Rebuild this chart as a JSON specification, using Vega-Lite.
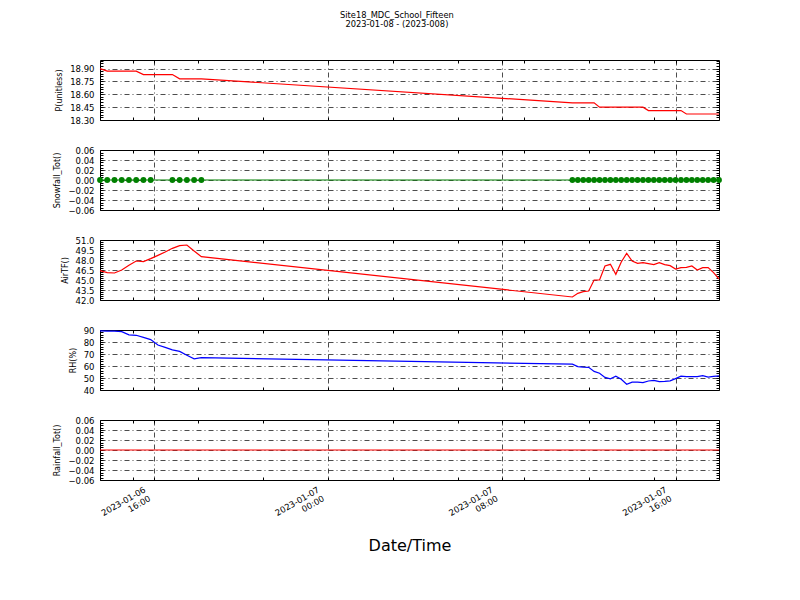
{
  "$schema": "https://vega.github.io/schema/vega-lite/v6.json",
  "padding": {"left": 53, "top": 10, "right": 5, "bottom": 5},
  "title": {"text": "Site18_MDC_School_Fifteen", "subtitle": "2023-01-08 - (2023-008)", "font": "DejaVu Sans", "subtitleFont": "DejaVu Sans", "fontSize": 8.3, "subtitleFontSize": 8.3, "fontWeight": "normal", "color": "black", "subtitleColor": "black", "subtitlePadding": 1, "anchor": "middle", "offset": 28, "dx": 9},
  "datasets": {
    "w": [
      {"t": "2023-01-06T13:30", "P": 18.90, "T": 46.40, "RH": 89.2, "S": 0, "R": 0},
      {"t": "2023-01-06T13:50", "P": 18.87, "T": 46.10, "RH": 89.0, "S": 0, "R": 0},
      {"t": "2023-01-06T14:10", "P": 18.87, "T": 46.05, "RH": 89.0, "S": 0, "R": 0},
      {"t": "2023-01-06T14:30", "P": 18.87, "T": 46.50, "RH": 88.6, "S": 0, "R": 0},
      {"t": "2023-01-06T14:50", "P": 18.87, "T": 47.20, "RH": 86.0, "S": 0, "R": 0},
      {"t": "2023-01-06T15:10", "P": 18.87, "T": 47.85, "RH": 85.6, "S": 0, "R": 0},
      {"t": "2023-01-06T15:30", "P": 18.83, "T": 47.75, "RH": 83.8, "S": 0, "R": 0},
      {"t": "2023-01-06T15:50", "P": 18.83, "T": 48.20, "RH": 82.0, "S": 0, "R": 0},
      {"t": "2023-01-06T16:10", "P": 18.83, "T": 48.70, "RH": 77.5, "S": null, "R": 0},
      {"t": "2023-01-06T16:30", "P": 18.83, "T": 49.20, "RH": 75.5, "S": null, "R": 0},
      {"t": "2023-01-06T16:50", "P": 18.83, "T": 49.75, "RH": 73.5, "S": 0, "R": 0},
      {"t": "2023-01-06T17:10", "P": 18.78, "T": 50.15, "RH": 72.2, "S": 0, "R": 0},
      {"t": "2023-01-06T17:30", "P": 18.78, "T": 50.25, "RH": 69.0, "S": 0, "R": 0},
      {"t": "2023-01-06T17:50", "P": 18.78, "T": 49.35, "RH": 66.0, "S": 0, "R": 0},
      {"t": "2023-01-06T18:10", "P": 18.78, "T": 48.50, "RH": 67.0, "S": 0, "R": 0},
      {"t": "2023-01-07T11:15", "P": 18.50, "T": 42.45, "RH": 61.5, "S": 0, "R": 0},
      {"t": "2023-01-07T11:30", "P": 18.50, "T": 43.00, "RH": 59.5, "S": 0, "R": 0},
      {"t": "2023-01-07T11:45", "P": 18.50, "T": 43.25, "RH": 59.0, "S": 0, "R": 0},
      {"t": "2023-01-07T12:00", "P": 18.50, "T": 43.35, "RH": 58.9, "S": 0, "R": 0},
      {"t": "2023-01-07T12:15", "P": 18.50, "T": 45.00, "RH": 55.5, "S": 0, "R": 0},
      {"t": "2023-01-07T12:30", "P": 18.45, "T": 45.00, "RH": 54.0, "S": 0, "R": 0},
      {"t": "2023-01-07T12:45", "P": 18.45, "T": 47.10, "RH": 50.5, "S": 0, "R": 0},
      {"t": "2023-01-07T13:00", "P": 18.45, "T": 47.35, "RH": 49.3, "S": 0, "R": 0},
      {"t": "2023-01-07T13:15", "P": 18.45, "T": 45.85, "RH": 51.5, "S": 0, "R": 0},
      {"t": "2023-01-07T13:30", "P": 18.45, "T": 47.70, "RH": 49.0, "S": 0, "R": 0},
      {"t": "2023-01-07T13:45", "P": 18.45, "T": 49.00, "RH": 44.8, "S": 0, "R": 0},
      {"t": "2023-01-07T14:00", "P": 18.45, "T": 47.85, "RH": 46.6, "S": 0, "R": 0},
      {"t": "2023-01-07T14:15", "P": 18.45, "T": 47.50, "RH": 46.5, "S": 0, "R": 0},
      {"t": "2023-01-07T14:30", "P": 18.45, "T": 47.60, "RH": 46.1, "S": 0, "R": 0},
      {"t": "2023-01-07T14:45", "P": 18.41, "T": 47.45, "RH": 47.5, "S": 0, "R": 0},
      {"t": "2023-01-07T15:00", "P": 18.41, "T": 47.30, "RH": 48.0, "S": 0, "R": 0},
      {"t": "2023-01-07T15:15", "P": 18.41, "T": 47.60, "RH": 47.0, "S": 0, "R": 0},
      {"t": "2023-01-07T15:30", "P": 18.41, "T": 47.30, "RH": 47.2, "S": 0, "R": 0},
      {"t": "2023-01-07T15:45", "P": 18.41, "T": 47.15, "RH": 47.6, "S": 0, "R": 0},
      {"t": "2023-01-07T16:00", "P": 18.41, "T": 46.65, "RH": 49.5, "S": 0, "R": 0},
      {"t": "2023-01-07T16:15", "P": 18.41, "T": 46.85, "RH": 51.5, "S": 0, "R": 0},
      {"t": "2023-01-07T16:30", "P": 18.37, "T": 46.90, "RH": 51.2, "S": 0, "R": 0},
      {"t": "2023-01-07T16:45", "P": 18.37, "T": 47.10, "RH": 51.1, "S": 0, "R": 0},
      {"t": "2023-01-07T17:00", "P": 18.37, "T": 46.50, "RH": 51.2, "S": 0, "R": 0},
      {"t": "2023-01-07T17:15", "P": 18.37, "T": 46.85, "RH": 52.0, "S": 0, "R": 0},
      {"t": "2023-01-07T17:30", "P": 18.37, "T": 46.85, "RH": 50.8, "S": 0, "R": 0},
      {"t": "2023-01-07T17:45", "P": 18.37, "T": 46.10, "RH": 51.3, "S": 0, "R": 0},
      {"t": "2023-01-07T18:00", "P": 18.37, "T": 45.15, "RH": 51.7, "S": 0, "R": 0}
    ]
  },
  "spacing": 30,
  "bounds": "flush",
  "vconcat": [
    {
      "width": 619, "height": 60,
      "data": {"name": "w"},
      "layer": [
        {"mark": {"type": "line", "color": "#ff0000", "strokeWidth": 1.2},
         "encoding": {
           "x": {"field": "t", "type": "temporal", "scale": {"domain": [{"year": 2023, "month": 1, "date": 6, "hours": 13, "minutes": 30}, {"year": 2023, "month": 1, "date": 7, "hours": 18}], "nice": false},
                 "axis": {"values": [{"year": 2023, "month": 1, "date": 6, "hours": 15}, {"year": 2023, "month": 1, "date": 6, "hours": 16}, {"year": 2023, "month": 1, "date": 6, "hours": 18}, {"year": 2023, "month": 1, "date": 6, "hours": 21}, {"year": 2023, "month": 1, "date": 7, "hours": 0}, {"year": 2023, "month": 1, "date": 7, "hours": 3}, {"year": 2023, "month": 1, "date": 7, "hours": 6}, {"year": 2023, "month": 1, "date": 7, "hours": 8}, {"year": 2023, "month": 1, "date": 7, "hours": 9}, {"year": 2023, "month": 1, "date": 7, "hours": 12}, {"year": 2023, "month": 1, "date": 7, "hours": 15}, {"year": 2023, "month": 1, "date": 7, "hours": 16}],
                          "labels": false, "title": null,
                          "gridOpacity": {"condition": {"test": "hours(datum.value) % 8 === 0", "value": 1}, "value": 0}}},
           "y": {"field": "P", "type": "quantitative", "scale": {"domain": [18.3, 19.0], "nice": false, "zero": false},
                 "axis": {"title": "P(unitless)", "values": [18.3, 18.33, 18.36, 18.39, 18.42, 18.45, 18.48, 18.51, 18.54, 18.57, 18.6, 18.63, 18.66, 18.69, 18.72, 18.75, 18.78, 18.81, 18.84, 18.87, 18.9, 18.93, 18.96, 18.99],
                          "labelExpr": "indexof([18.3, 18.45, 18.6, 18.75, 18.9], datum.value) >= 0 ? format(datum.value, '.2f') : ''",
                          "gridOpacity": {"condition": {"test": "indexof([18.3, 18.45, 18.6, 18.75, 18.9], datum.value) >= 0", "value": 1}, "value": 0}}}
         }},
        {"mark": {"type": "line", "opacity": 0},
         "encoding": {
           "x": {"field": "t", "type": "temporal", "axis": {"orient": "top", "values": [{"year": 2023, "month": 1, "date": 6, "hours": 15}, {"year": 2023, "month": 1, "date": 6, "hours": 16}, {"year": 2023, "month": 1, "date": 6, "hours": 18}, {"year": 2023, "month": 1, "date": 6, "hours": 21}, {"year": 2023, "month": 1, "date": 7, "hours": 0}, {"year": 2023, "month": 1, "date": 7, "hours": 3}, {"year": 2023, "month": 1, "date": 7, "hours": 6}, {"year": 2023, "month": 1, "date": 7, "hours": 8}, {"year": 2023, "month": 1, "date": 7, "hours": 9}, {"year": 2023, "month": 1, "date": 7, "hours": 12}, {"year": 2023, "month": 1, "date": 7, "hours": 15}, {"year": 2023, "month": 1, "date": 7, "hours": 16}], "labels": false, "grid": false, "title": null}},
           "y": {"field": "P", "type": "quantitative", "axis": {"orient": "right", "values": [18.3, 18.33, 18.36, 18.39, 18.42, 18.45, 18.48, 18.51, 18.54, 18.57, 18.6, 18.63, 18.66, 18.69, 18.72, 18.75, 18.78, 18.81, 18.84, 18.87, 18.9, 18.93, 18.96, 18.99], "labels": false, "grid": false, "title": null}}
         }}
      ],
      "resolve": {"axis": {"x": "independent", "y": "independent"}}
    },
    {
      "width": 619, "height": 60,
      "data": {"name": "w"},
      "transform": [{"filter": "isValid(datum.S)"}],
      "layer": [
        {"mark": {"type": "line", "color": "#008000", "strokeWidth": 1.2},
         "encoding": {
           "x": {"field": "t", "type": "temporal", "scale": {"domain": [{"year": 2023, "month": 1, "date": 6, "hours": 13, "minutes": 30}, {"year": 2023, "month": 1, "date": 7, "hours": 18}], "nice": false},
                 "axis": {"values": [{"year": 2023, "month": 1, "date": 6, "hours": 15}, {"year": 2023, "month": 1, "date": 6, "hours": 16}, {"year": 2023, "month": 1, "date": 6, "hours": 18}, {"year": 2023, "month": 1, "date": 6, "hours": 21}, {"year": 2023, "month": 1, "date": 7, "hours": 0}, {"year": 2023, "month": 1, "date": 7, "hours": 3}, {"year": 2023, "month": 1, "date": 7, "hours": 6}, {"year": 2023, "month": 1, "date": 7, "hours": 8}, {"year": 2023, "month": 1, "date": 7, "hours": 9}, {"year": 2023, "month": 1, "date": 7, "hours": 12}, {"year": 2023, "month": 1, "date": 7, "hours": 15}, {"year": 2023, "month": 1, "date": 7, "hours": 16}],
                          "labels": false, "title": null,
                          "gridOpacity": {"condition": {"test": "hours(datum.value) % 8 === 0", "value": 1}, "value": 0}}},
           "y": {"field": "S", "type": "quantitative", "scale": {"domain": [-0.06, 0.06], "nice": false, "zero": false},
                 "axis": {"title": "Snowfall_Tot()", "values": [-0.06, -0.055, -0.05, -0.045, -0.04, -0.035, -0.03, -0.025, -0.02, -0.015, -0.01, -0.005, 0, 0.005, 0.01, 0.015, 0.02, 0.025, 0.03, 0.035, 0.04, 0.045, 0.05, 0.055, 0.06],
                          "labelExpr": "indexof([-0.06, -0.04, -0.02, 0, 0.02, 0.04, 0.06], datum.value) >= 0 ? format(datum.value, '.2f') : ''",
                          "gridOpacity": {"condition": {"test": "indexof([-0.06, -0.04, -0.02, 0, 0.02, 0.04, 0.06], datum.value) >= 0", "value": 1}, "value": 0}}}
         }},
        {"mark": {"type": "point", "filled": true, "color": "#008000", "opacity": 1, "size": 34},
         "encoding": {
           "x": {"field": "t", "type": "temporal", "axis": null},
           "y": {"field": "S", "type": "quantitative", "axis": null}
         }},
        {"mark": {"type": "line", "opacity": 0},
         "encoding": {
           "x": {"field": "t", "type": "temporal", "axis": {"orient": "top", "values": [{"year": 2023, "month": 1, "date": 6, "hours": 15}, {"year": 2023, "month": 1, "date": 6, "hours": 16}, {"year": 2023, "month": 1, "date": 6, "hours": 18}, {"year": 2023, "month": 1, "date": 6, "hours": 21}, {"year": 2023, "month": 1, "date": 7, "hours": 0}, {"year": 2023, "month": 1, "date": 7, "hours": 3}, {"year": 2023, "month": 1, "date": 7, "hours": 6}, {"year": 2023, "month": 1, "date": 7, "hours": 8}, {"year": 2023, "month": 1, "date": 7, "hours": 9}, {"year": 2023, "month": 1, "date": 7, "hours": 12}, {"year": 2023, "month": 1, "date": 7, "hours": 15}, {"year": 2023, "month": 1, "date": 7, "hours": 16}], "labels": false, "grid": false, "title": null}},
           "y": {"field": "S", "type": "quantitative", "axis": {"orient": "right", "values": [-0.06, -0.055, -0.05, -0.045, -0.04, -0.035, -0.03, -0.025, -0.02, -0.015, -0.01, -0.005, 0, 0.005, 0.01, 0.015, 0.02, 0.025, 0.03, 0.035, 0.04, 0.045, 0.05, 0.055, 0.06], "labels": false, "grid": false, "title": null}}
         }}
      ],
      "resolve": {"axis": {"x": "independent", "y": "independent"}}
    },
    {
      "width": 619, "height": 60,
      "data": {"name": "w"},
      "layer": [
        {"mark": {"type": "line", "color": "#ff0000", "strokeWidth": 1.2},
         "encoding": {
           "x": {"field": "t", "type": "temporal", "scale": {"domain": [{"year": 2023, "month": 1, "date": 6, "hours": 13, "minutes": 30}, {"year": 2023, "month": 1, "date": 7, "hours": 18}], "nice": false},
                 "axis": {"values": [{"year": 2023, "month": 1, "date": 6, "hours": 15}, {"year": 2023, "month": 1, "date": 6, "hours": 16}, {"year": 2023, "month": 1, "date": 6, "hours": 18}, {"year": 2023, "month": 1, "date": 6, "hours": 21}, {"year": 2023, "month": 1, "date": 7, "hours": 0}, {"year": 2023, "month": 1, "date": 7, "hours": 3}, {"year": 2023, "month": 1, "date": 7, "hours": 6}, {"year": 2023, "month": 1, "date": 7, "hours": 8}, {"year": 2023, "month": 1, "date": 7, "hours": 9}, {"year": 2023, "month": 1, "date": 7, "hours": 12}, {"year": 2023, "month": 1, "date": 7, "hours": 15}, {"year": 2023, "month": 1, "date": 7, "hours": 16}],
                          "labels": false, "title": null,
                          "gridOpacity": {"condition": {"test": "hours(datum.value) % 8 === 0", "value": 1}, "value": 0}}},
           "y": {"field": "T", "type": "quantitative", "scale": {"domain": [42, 51], "nice": false, "zero": false},
                 "axis": {"title": "AirTF()", "values": [42, 42.3, 42.6, 42.9, 43.2, 43.5, 43.8, 44.1, 44.4, 44.7, 45, 45.3, 45.6, 45.9, 46.2, 46.5, 46.8, 47.1, 47.4, 47.7, 48, 48.3, 48.6, 48.9, 49.2, 49.5, 49.8, 50.1, 50.4, 50.7, 51],
                          "labelExpr": "indexof([42, 43.5, 45, 46.5, 48, 49.5, 51], datum.value) >= 0 ? format(datum.value, '.1f') : ''",
                          "gridOpacity": {"condition": {"test": "indexof([42, 43.5, 45, 46.5, 48, 49.5, 51], datum.value) >= 0", "value": 1}, "value": 0}}}
         }},
        {"mark": {"type": "line", "opacity": 0},
         "encoding": {
           "x": {"field": "t", "type": "temporal", "axis": {"orient": "top", "values": [{"year": 2023, "month": 1, "date": 6, "hours": 15}, {"year": 2023, "month": 1, "date": 6, "hours": 16}, {"year": 2023, "month": 1, "date": 6, "hours": 18}, {"year": 2023, "month": 1, "date": 6, "hours": 21}, {"year": 2023, "month": 1, "date": 7, "hours": 0}, {"year": 2023, "month": 1, "date": 7, "hours": 3}, {"year": 2023, "month": 1, "date": 7, "hours": 6}, {"year": 2023, "month": 1, "date": 7, "hours": 8}, {"year": 2023, "month": 1, "date": 7, "hours": 9}, {"year": 2023, "month": 1, "date": 7, "hours": 12}, {"year": 2023, "month": 1, "date": 7, "hours": 15}, {"year": 2023, "month": 1, "date": 7, "hours": 16}], "labels": false, "grid": false, "title": null}},
           "y": {"field": "T", "type": "quantitative", "axis": {"orient": "right", "values": [42, 42.3, 42.6, 42.9, 43.2, 43.5, 43.8, 44.1, 44.4, 44.7, 45, 45.3, 45.6, 45.9, 46.2, 46.5, 46.8, 47.1, 47.4, 47.7, 48, 48.3, 48.6, 48.9, 49.2, 49.5, 49.8, 50.1, 50.4, 50.7, 51], "labels": false, "grid": false, "title": null}}
         }}
      ],
      "resolve": {"axis": {"x": "independent", "y": "independent"}}
    },
    {
      "width": 619, "height": 60,
      "data": {"name": "w"},
      "layer": [
        {"mark": {"type": "line", "color": "#0000ff", "strokeWidth": 1.2},
         "encoding": {
           "x": {"field": "t", "type": "temporal", "scale": {"domain": [{"year": 2023, "month": 1, "date": 6, "hours": 13, "minutes": 30}, {"year": 2023, "month": 1, "date": 7, "hours": 18}], "nice": false},
                 "axis": {"values": [{"year": 2023, "month": 1, "date": 6, "hours": 15}, {"year": 2023, "month": 1, "date": 6, "hours": 16}, {"year": 2023, "month": 1, "date": 6, "hours": 18}, {"year": 2023, "month": 1, "date": 6, "hours": 21}, {"year": 2023, "month": 1, "date": 7, "hours": 0}, {"year": 2023, "month": 1, "date": 7, "hours": 3}, {"year": 2023, "month": 1, "date": 7, "hours": 6}, {"year": 2023, "month": 1, "date": 7, "hours": 8}, {"year": 2023, "month": 1, "date": 7, "hours": 9}, {"year": 2023, "month": 1, "date": 7, "hours": 12}, {"year": 2023, "month": 1, "date": 7, "hours": 15}, {"year": 2023, "month": 1, "date": 7, "hours": 16}],
                          "labels": false, "title": null,
                          "gridOpacity": {"condition": {"test": "hours(datum.value) % 8 === 0", "value": 1}, "value": 0}}},
           "y": {"field": "RH", "type": "quantitative", "scale": {"domain": [40, 90], "nice": false, "zero": false},
                 "axis": {"title": "RH(%)", "values": [40, 42, 44, 46, 48, 50, 52, 54, 56, 58, 60, 62, 64, 66, 68, 70, 72, 74, 76, 78, 80, 82, 84, 86, 88, 90],
                          "labelExpr": "datum.value % 10 === 0 ? format(datum.value, 'd') : ''",
                          "gridOpacity": {"condition": {"test": "datum.value % 10 === 0", "value": 1}, "value": 0}}}
         }},
        {"mark": {"type": "line", "opacity": 0},
         "encoding": {
           "x": {"field": "t", "type": "temporal", "axis": {"orient": "top", "values": [{"year": 2023, "month": 1, "date": 6, "hours": 15}, {"year": 2023, "month": 1, "date": 6, "hours": 16}, {"year": 2023, "month": 1, "date": 6, "hours": 18}, {"year": 2023, "month": 1, "date": 6, "hours": 21}, {"year": 2023, "month": 1, "date": 7, "hours": 0}, {"year": 2023, "month": 1, "date": 7, "hours": 3}, {"year": 2023, "month": 1, "date": 7, "hours": 6}, {"year": 2023, "month": 1, "date": 7, "hours": 8}, {"year": 2023, "month": 1, "date": 7, "hours": 9}, {"year": 2023, "month": 1, "date": 7, "hours": 12}, {"year": 2023, "month": 1, "date": 7, "hours": 15}, {"year": 2023, "month": 1, "date": 7, "hours": 16}], "labels": false, "grid": false, "title": null}},
           "y": {"field": "RH", "type": "quantitative", "axis": {"orient": "right", "values": [40, 42, 44, 46, 48, 50, 52, 54, 56, 58, 60, 62, 64, 66, 68, 70, 72, 74, 76, 78, 80, 82, 84, 86, 88, 90], "labels": false, "grid": false, "title": null}}
         }}
      ],
      "resolve": {"axis": {"x": "independent", "y": "independent"}}
    },
    {
      "width": 619, "height": 60,
      "data": {"name": "w"},
      "layer": [
        {"mark": {"type": "line", "color": "#ff0000", "strokeWidth": 1.2},
         "encoding": {
           "x": {"field": "t", "type": "temporal", "scale": {"domain": [{"year": 2023, "month": 1, "date": 6, "hours": 13, "minutes": 30}, {"year": 2023, "month": 1, "date": 7, "hours": 18}], "nice": false},
                 "axis": {"values": [{"year": 2023, "month": 1, "date": 6, "hours": 15}, {"year": 2023, "month": 1, "date": 6, "hours": 16}, {"year": 2023, "month": 1, "date": 6, "hours": 18}, {"year": 2023, "month": 1, "date": 6, "hours": 21}, {"year": 2023, "month": 1, "date": 7, "hours": 0}, {"year": 2023, "month": 1, "date": 7, "hours": 3}, {"year": 2023, "month": 1, "date": 7, "hours": 6}, {"year": 2023, "month": 1, "date": 7, "hours": 8}, {"year": 2023, "month": 1, "date": 7, "hours": 9}, {"year": 2023, "month": 1, "date": 7, "hours": 12}, {"year": 2023, "month": 1, "date": 7, "hours": 15}, {"year": 2023, "month": 1, "date": 7, "hours": 16}],
                          "title": "Date/Time", "titleFontSize": 16, "titlePadding": 12,
                          "labelAngle": -30, "labelAlign": "right", "labelBaseline": "top", "labelLineHeight": 10, "labelPadding": 8, "labelOffset": -12,
                          "labelExpr": "hours(datum.value) % 8 === 0 ? [timeFormat(datum.value, '%Y-%m-%d'), timeFormat(datum.value, '%H:%M')] : ''",
                          "gridOpacity": {"condition": {"test": "hours(datum.value) % 8 === 0", "value": 1}, "value": 0}}},
           "y": {"field": "R", "type": "quantitative", "scale": {"domain": [-0.06, 0.06], "nice": false, "zero": false},
                 "axis": {"title": "Rainfall_Tot()", "values": [-0.06, -0.055, -0.05, -0.045, -0.04, -0.035, -0.03, -0.025, -0.02, -0.015, -0.01, -0.005, 0, 0.005, 0.01, 0.015, 0.02, 0.025, 0.03, 0.035, 0.04, 0.045, 0.05, 0.055, 0.06],
                          "labelExpr": "indexof([-0.06, -0.04, -0.02, 0, 0.02, 0.04, 0.06], datum.value) >= 0 ? format(datum.value, '.2f') : ''",
                          "gridOpacity": {"condition": {"test": "indexof([-0.06, -0.04, -0.02, 0, 0.02, 0.04, 0.06], datum.value) >= 0", "value": 1}, "value": 0}}}
         }},
        {"mark": {"type": "line", "opacity": 0},
         "encoding": {
           "x": {"field": "t", "type": "temporal", "axis": {"orient": "top", "values": [{"year": 2023, "month": 1, "date": 6, "hours": 15}, {"year": 2023, "month": 1, "date": 6, "hours": 16}, {"year": 2023, "month": 1, "date": 6, "hours": 18}, {"year": 2023, "month": 1, "date": 6, "hours": 21}, {"year": 2023, "month": 1, "date": 7, "hours": 0}, {"year": 2023, "month": 1, "date": 7, "hours": 3}, {"year": 2023, "month": 1, "date": 7, "hours": 6}, {"year": 2023, "month": 1, "date": 7, "hours": 8}, {"year": 2023, "month": 1, "date": 7, "hours": 9}, {"year": 2023, "month": 1, "date": 7, "hours": 12}, {"year": 2023, "month": 1, "date": 7, "hours": 15}, {"year": 2023, "month": 1, "date": 7, "hours": 16}], "labels": false, "grid": false, "title": null}},
           "y": {"field": "R", "type": "quantitative", "axis": {"orient": "right", "values": [-0.06, -0.055, -0.05, -0.045, -0.04, -0.035, -0.03, -0.025, -0.02, -0.015, -0.01, -0.005, 0, 0.005, 0.01, 0.015, 0.02, 0.025, 0.03, 0.035, 0.04, 0.045, 0.05, 0.055, 0.06], "labels": false, "grid": false, "title": null}}
         }}
      ],
      "resolve": {"axis": {"x": "independent", "y": "independent"}}
    }
  ],
  "config": {
    "font": "DejaVu Sans",
    "background": "white",
    "view": {"stroke": "black", "strokeWidth": 1},
    "axis": {"domain": false, "tickColor": "black", "tickSize": -3, "tickWidth": 1, "labelColor": "black", "labelFont": "DejaVu Sans", "labelFontSize": 8.5, "labelPadding": 9, "labelOverlap": false, "labelBound": false, "labelFlush": false, "gridColor": "black", "gridDash": [5, 3, 1, 3], "gridWidth": 0.7, "titleFont": "DejaVu Sans", "titleFontWeight": "normal", "titleColor": "black", "titleFontSize": 8, "titlePadding": 6}
  }
}
